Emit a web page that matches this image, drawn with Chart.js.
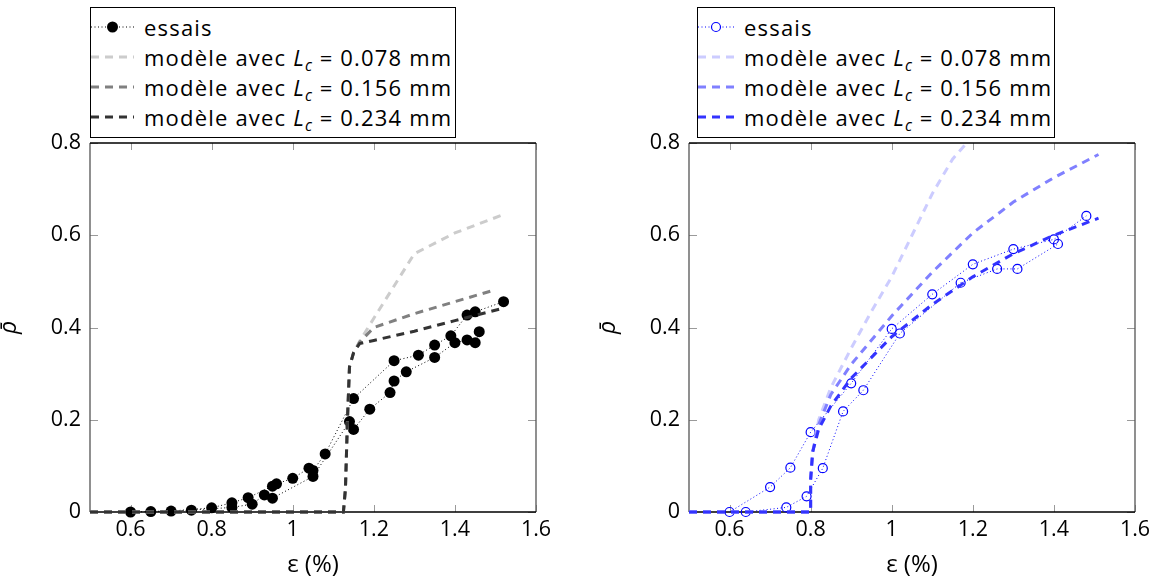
<!DOCTYPE html>
<html><head><meta charset="utf-8">
<script src="https://cdn.jsdelivr.net/npm/chart.js@4/dist/chart.umd.min.js"></script>
<style>
html,body{margin:0;padding:0;background:#fff;}
#wrap{position:relative;width:1158px;height:584px;overflow:hidden;background:#fff;}
.pane{position:absolute;top:0;width:579px;height:584px;}
.legend{position:absolute;border:1px solid #000;background:#fff;font-family:"Open Sans",sans-serif;font-size:22px;letter-spacing:1.2px;color:#000;box-sizing:border-box;padding-top:4px;overflow:hidden;}
.row{display:flex;align-items:center;height:30px;white-space:nowrap;}
.row svg{flex:none;}
.row span{margin-left:10px;}
.row span.eq{margin:0 0.3em;}
sub{font-size:70%;vertical-align:-0.3em;line-height:0;}
</style>
</head>
<body>
<div id="wrap">
  <div class="pane" style="left:0"><canvas id="c1" width="579" height="584"></canvas></div>
  <div class="pane" style="left:579px"><canvas id="c2" width="579" height="584"></canvas></div>
  <div id="lg1" class="legend" style="left:90px;top:7px;width:366px;height:131px"></div>
  <div id="lg2" class="legend" style="left:697px;top:7px;width:358px;height:131px"></div>
</div>
<script>
// ---------- tick labels ----------
const xTicks = [0.6, 0.8, 1, 1.2, 1.4, 1.6];
const yTicks = [0, 0.2, 0.4, 0.6, 0.8];
const modelLc = ['0.078', '0.156', '0.234'];

// ---------- left panel : essais (two test runs) ----------
const L_essA_eps = [0.60, 0.70, 0.80, 0.85, 0.89, 0.95, 0.96, 1.00, 1.04, 1.05, 1.08, 1.15, 1.25, 1.31, 1.35, 1.39, 1.43, 1.45, 1.52];
const L_essA_rho = [0.000, 0.002, 0.009, 0.020, 0.031, 0.056, 0.061, 0.073, 0.095, 0.090, 0.126, 0.246, 0.328, 0.340, 0.362, 0.382, 0.427, 0.434, 0.456];
const L_essB_eps = [0.65, 0.75, 0.85, 0.90, 0.93, 0.95, 1.05, 1.14, 1.15, 1.19, 1.24, 1.25, 1.28, 1.35, 1.40, 1.43, 1.45, 1.46];
const L_essB_rho = [0.001, 0.004, 0.010, 0.017, 0.037, 0.030, 0.077, 0.196, 0.179, 0.223, 0.259, 0.284, 0.304, 0.335, 0.367, 0.373, 0.367, 0.391];
// left panel : models
const L_m1_eps = [0.50, 1.125, 1.13, 1.135, 1.14, 1.15, 1.165, 1.20, 1.25, 1.30, 1.40, 1.52];
const L_m1_rho = [0.000, 0.000, 0.050, 0.200, 0.315, 0.345, 0.370, 0.420, 0.490, 0.560, 0.605, 0.645];
const L_m2_eps = [0.50, 1.125, 1.13, 1.135, 1.14, 1.15, 1.165, 1.20, 1.30, 1.40, 1.50];
const L_m2_rho = [0.000, 0.000, 0.050, 0.200, 0.315, 0.345, 0.368, 0.400, 0.430, 0.456, 0.482];
const L_m3_eps = [0.50, 1.125, 1.13, 1.135, 1.14, 1.15, 1.165, 1.20, 1.30, 1.40, 1.52];
const L_m3_rho = [0.000, 0.000, 0.050, 0.200, 0.315, 0.345, 0.365, 0.372, 0.392, 0.415, 0.442];

// ---------- right panel : essais ----------
const R_essA_eps = [0.60, 0.70, 0.75, 0.80, 0.90, 1.00, 1.10, 1.20, 1.30, 1.40, 1.48];
const R_essA_rho = [0.000, 0.054, 0.096, 0.173, 0.279, 0.397, 0.472, 0.537, 0.570, 0.591, 0.642];
const R_essB_eps = [0.64, 0.74, 0.79, 0.83, 0.88, 0.93, 1.02, 1.17, 1.26, 1.31, 1.41];
const R_essB_rho = [0.000, 0.010, 0.034, 0.095, 0.218, 0.264, 0.387, 0.497, 0.527, 0.527, 0.581];
// right panel : models
const R_m1_eps = [0.50, 0.80, 0.80, 0.805, 0.82, 0.85, 0.90, 0.95, 1.00, 1.05, 1.10, 1.15, 1.20];
const R_m1_rho = [0.000, 0.000, 0.070, 0.130, 0.200, 0.270, 0.355, 0.435, 0.510, 0.600, 0.690, 0.765, 0.815];
const R_m2_eps = [0.50, 0.80, 0.80, 0.805, 0.82, 0.85, 0.90, 1.00, 1.10, 1.20, 1.30, 1.40, 1.51];
const R_m2_rho = [0.000, 0.000, 0.070, 0.130, 0.190, 0.255, 0.320, 0.425, 0.520, 0.605, 0.672, 0.725, 0.775];
const R_m3_eps = [0.50, 0.80, 0.80, 0.805, 0.82, 0.85, 0.90, 1.00, 1.10, 1.20, 1.30, 1.40, 1.51];
const R_m3_rho = [0.000, 0.000, 0.070, 0.130, 0.180, 0.230, 0.290, 0.380, 0.450, 0.510, 0.560, 0.600, 0.637];

const FONT = '"Open Sans", sans-serif';
const FS = 21.5;
const pts = (xs, ys) => xs.map((x, i) => ({x: x, y: ys[i]}));

function essais(xs, ys, color, filled, radius, inLegend) {
  return {
    label: 'essais', legend: inLegend, data: pts(xs, ys), showLine: true,
    borderColor: color, borderWidth: 1, borderDash: [1, 2.5],
    pointRadius: radius, pointHoverRadius: radius,
    pointBackgroundColor: filled ? color : 'rgba(0,0,0,0)',
    pointBorderColor: color, pointBorderWidth: filled ? 0 : 1.2,
    clip: false, order: 5
  };
}
function model(xs, ys, color, lc, order) {
  return {
    label: 'modèle avec Lc = ' + lc + ' mm', lc: lc, legend: true, data: pts(xs, ys), showLine: true,
    borderColor: color, borderWidth: 3, borderDash: [8, 6],
    pointRadius: 0, pointHoverRadius: 0, tension: 0,
    clip: {left: 5, right: 5, top: 0, bottom: 5}, order: order
  };
}

const frame = {
  id: 'frame',
  beforeDatasetsDraw(chart) {
    const {ctx, chartArea: a, scales: {x, y}} = chart;
    ctx.save();
    ctx.lineWidth = 1; ctx.strokeStyle = '#9a9a9a';
    ctx.beginPath();
    xTicks.forEach(v => { const px = Math.round(x.getPixelForValue(v)) + 0.5;
      ctx.moveTo(px, a.bottom); ctx.lineTo(px, a.bottom - 7);
      ctx.moveTo(px, a.top); ctx.lineTo(px, a.top + 7); });
    yTicks.forEach(v => { const py = Math.round(y.getPixelForValue(v)) + 0.5;
      ctx.moveTo(a.left, py); ctx.lineTo(a.left + 8, py);
      ctx.moveTo(a.right, py); ctx.lineTo(a.right - 8, py); });
    ctx.stroke();
    ctx.lineWidth = 1.3; ctx.strokeStyle = '#555';
    ctx.beginPath();
    ctx.moveTo(a.left, a.top); ctx.lineTo(a.left, a.bottom);
    ctx.moveTo(a.right, a.top); ctx.lineTo(a.right, a.bottom);
    ctx.stroke();
    ctx.strokeStyle = '#000';
    ctx.beginPath();
    ctx.moveTo(a.left, a.top); ctx.lineTo(a.right, a.top);
    ctx.moveTo(a.left, a.bottom); ctx.lineTo(a.right, a.bottom);
    ctx.stroke();
    ctx.restore();
  }
};

function fmt(v) { return String(Number(v.toFixed(2))); }

function makeChart(id, datasets, padLeft, padRight) {
  return new Chart(document.getElementById(id), {
    type: 'scatter',
    data: {datasets: datasets},
    plugins: [frame],
    options: {
      responsive: false, animation: false, devicePixelRatio: 1,
      layout: {padding: {left: padLeft, right: padRight, top: 143, bottom: 0}},
      plugins: {legend: {display: false}, tooltip: {enabled: false}},
      events: [],
      scales: {
        x: {
          type: 'linear', min: 0.5, max: 1.6,
          afterBuildTicks: s => { s.ticks = xTicks.map(v => ({value: v})); },
          afterFit: s => { s.height = 72; },
          grid: {display: false, drawTicks: false}, border: {display: false},
          ticks: {color: '#000', font: {family: FONT, size: FS}, padding: 5, callback: v => fmt(v), maxRotation: 0, autoSkip: false},
          title: {display: true, text: 'ε (%)', color: '#000', font: {family: FONT, size: 24}, padding: {top: 0, bottom: 4}}
        },
        y: {
          type: 'linear', min: 0, max: 0.8,
          afterBuildTicks: s => { s.ticks = yTicks.map(v => ({value: v})); },
          afterFit: s => { s.width = 90; },
          grid: {display: false, drawTicks: false}, border: {display: false},
          ticks: {color: '#000', font: {family: FONT, size: FS}, padding: 9, callback: v => fmt(v), autoSkip: false},
          title: {display: true, text: 'ρ̄', color: '#000', font: {family: FONT, size: 23, style: 'italic'}, padding: {top: -4, bottom: 0}}
        }
      }
    }
  });
}

const c1 = makeChart('c1', [
  essais(L_essA_eps, L_essA_rho, '#000000', true, 5.5, true),
  essais(L_essB_eps, L_essB_rho, '#000000', true, 5.5, false),
  model(L_m1_eps, L_m1_rho, 'rgb(204,204,204)', modelLc[0], 3),
  model(L_m2_eps, L_m2_rho, 'rgb(128,128,128)', modelLc[1], 2),
  model(L_m3_eps, L_m3_rho, 'rgb(51,51,51)', modelLc[2], 1)
], 0, 43);

const c2 = makeChart('c2', [
  essais(R_essA_eps, R_essA_rho, 'rgb(0,0,255)', false, 4.5, true),
  essais(R_essB_eps, R_essB_rho, 'rgb(0,0,255)', false, 4.5, false),
  model(R_m1_eps, R_m1_rho, 'rgb(204,204,255)', modelLc[0], 3),
  model(R_m2_eps, R_m2_rho, 'rgb(128,128,255)', modelLc[1], 2),
  model(R_m3_eps, R_m3_rho, 'rgb(51,51,255)', modelLc[2], 1)
], 20, 23);

function buildLegend(chart, el, sampleW) {
  chart.data.datasets.filter(d => d.legend).forEach(d => {
    const row = document.createElement('div');
    row.className = 'row';
    const h = 20, cy = h / 2;
    let svg = `<svg width="${sampleW}" height="${h}" viewBox="0 0 ${sampleW} ${h}">`;
    if (d.pointRadius > 0) {
      svg += `<line x1="0" y1="${cy}" x2="${sampleW}" y2="${cy}" stroke="${d.borderColor}" stroke-width="1" stroke-dasharray="1 2.5"/>`;
      svg += `<circle cx="${sampleW / 2}" cy="${cy}" r="${d.pointRadius}" fill="${d.pointBackgroundColor === 'rgba(0,0,0,0)' ? '#fff' : d.pointBackgroundColor}" stroke="${d.pointBorderColor}" stroke-width="${d.pointBorderWidth}"/>`;
    } else {
      svg += `<line x1="0" y1="${cy}" x2="${sampleW}" y2="${cy}" stroke="${d.borderColor}" stroke-width="3" stroke-dasharray="8 6"/>`;
    }
    svg += '</svg>';
    const txt = d.lc ? `modèle avec <i>L</i><sub><i>c</i></sub><span class="eq">=</span>${d.lc} mm` : d.label;
    row.innerHTML = svg + `<span>${txt}</span>`;
    el.appendChild(row);
  });
}
buildLegend(c1, document.getElementById('lg1'), 43);
buildLegend(c2, document.getElementById('lg2'), 36);
</script>
</body></html>
